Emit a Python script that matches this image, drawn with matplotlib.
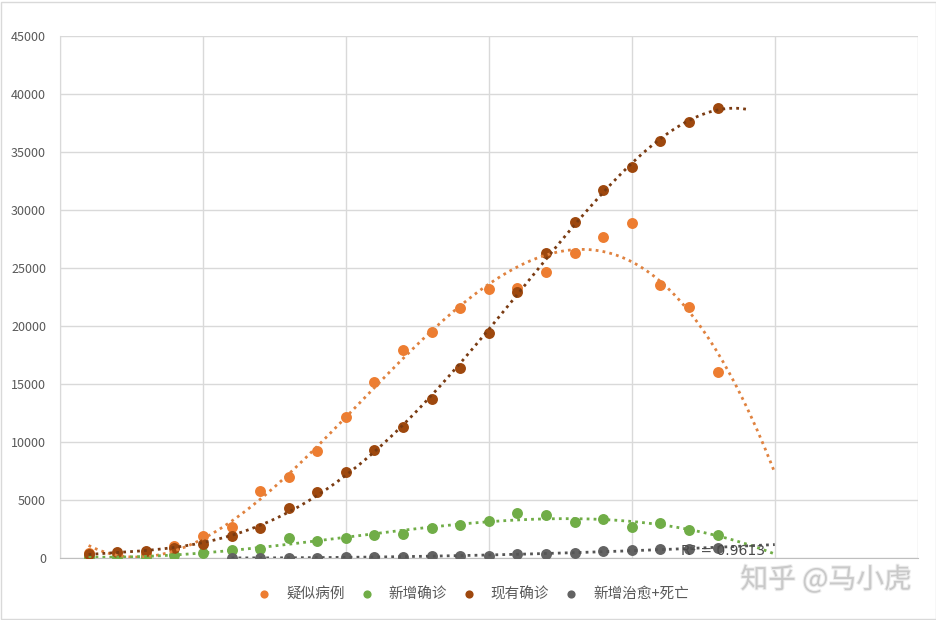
import numpy as np
import matplotlib
matplotlib.use("Agg")
import matplotlib.pyplot as plt
from matplotlib.patches import Rectangle
import matplotlib.patheffects as pe

plt.rcParams['font.family'] = ['Noto Sans CJK SC', 'DejaVu Sans']

days = list(range(1, 24))
suspected = [500, 350, 400, 1072, 1965, 2684, 5794, 6973, 9239, 12167, 15238, 17988, 19544,
             21558, 23214, 23260, 24702, 26359, 27657, 28942, 23589, 21675, 16067]
new_confirmed = [77, 149, 131, 259, 444, 688, 769, 1771, 1459, 1737, 1982, 2102, 2590,
                 2829, 3235, 3887, 3694, 3143, 3399, 2656, 3062, 2478, 2015]
current_confirmed = [400, 520, 620, 860, 1250, 1880, 2620, 4360, 5740, 7420, 9310, 11300,
                     13750, 16380, 19380, 22950, 26300, 28990, 31770, 33740, 35990, 37630, 38800]
cure_days = list(range(6, 24))
cured_dead = [40, 45, 50, 60, 80, 100, 130, 180, 210, 240, 350, 380, 500, 640, 720, 780, 840, 870]

series_names = ['疑似病例', '新增确诊', '现有确诊', '新增治愈+死亡']
colors = ['#ED7D31', '#70AD47', '#9E480E', '#636363']
trend_colors = ['#E0823F', '#70AD47', '#7A3B12', '#555555']

fig = plt.figure(figsize=(9.37, 6.2), dpi=100)
ax = fig.add_axes([60/937, 1-558.3/620, (917.7-60)/937, (558.3-36.3)/620])

ax.set_xlim(0, 30)
ax.set_ylim(0, 45000)
ax.set_xticks(np.arange(0, 31, 5))
ax.set_yticks(np.arange(0, 45001, 5000))
ax.tick_params(axis='x', labelbottom=False, length=0)
ax.tick_params(axis='y', length=0, labelsize=9, labelcolor='#595959', pad=10)
ax.grid(True, color='#d9d9d9', linewidth=1)
ax.set_axisbelow(True)
for s in ['top', 'right']:
    ax.spines[s].set_visible(False)
ax.spines['left'].set_color('#d9d9d9')
ax.spines['bottom'].set_color('#bfbfbf')

data = [(days, suspected, 3, 25), (days, new_confirmed, 4, 25),
        (days, current_confirmed, 4, 24), (cure_days, cured_dead, 2, 25)]

for (xs, ys, deg, xend), c, name in zip(data, colors, series_names):
    ax.scatter(xs, ys, s=62, color=c, label=name, zorder=3, linewidths=0)

for (xs, ys, deg, xend), tc in zip(data, trend_colors):
    coef = np.polyfit(xs, ys, deg)
    xx = np.linspace(xs[0], xend, 200)
    ax.plot(xx, np.polyval(coef, xx), color=tc, linestyle=(0, (1, 1.5)), linewidth=2, zorder=4)

ax.text(23.2, 620, 'R² = 0.9613', fontsize=10, color='#4a4a4a', zorder=6,
        ha='center', va='center', family=['DejaVu Sans'])

leg = fig.legend(loc='center', bbox_to_anchor=(473/937, 1-594/620), ncol=4, frameon=False,
                 fontsize=10.5, handlelength=1.0, handletextpad=1.0, columnspacing=1.0,
                 markerscale=0.75)
for t in leg.get_texts():
    t.set_color('#595959')

fig.text(826/937, 1-580/620, '知乎 @马小虎', fontsize=20, color='#c9c9c9', ha='center', va='center',
         path_effects=[pe.withStroke(linewidth=1.5, foreground='#eeeeee')])

fig.patches.append(Rectangle((1/937, 1/620), 935/937, 617/620, transform=fig.transFigure,
                             fill=False, edgecolor='#d9d9d9', linewidth=1))

fig.savefig('out.png', dpi=100)
